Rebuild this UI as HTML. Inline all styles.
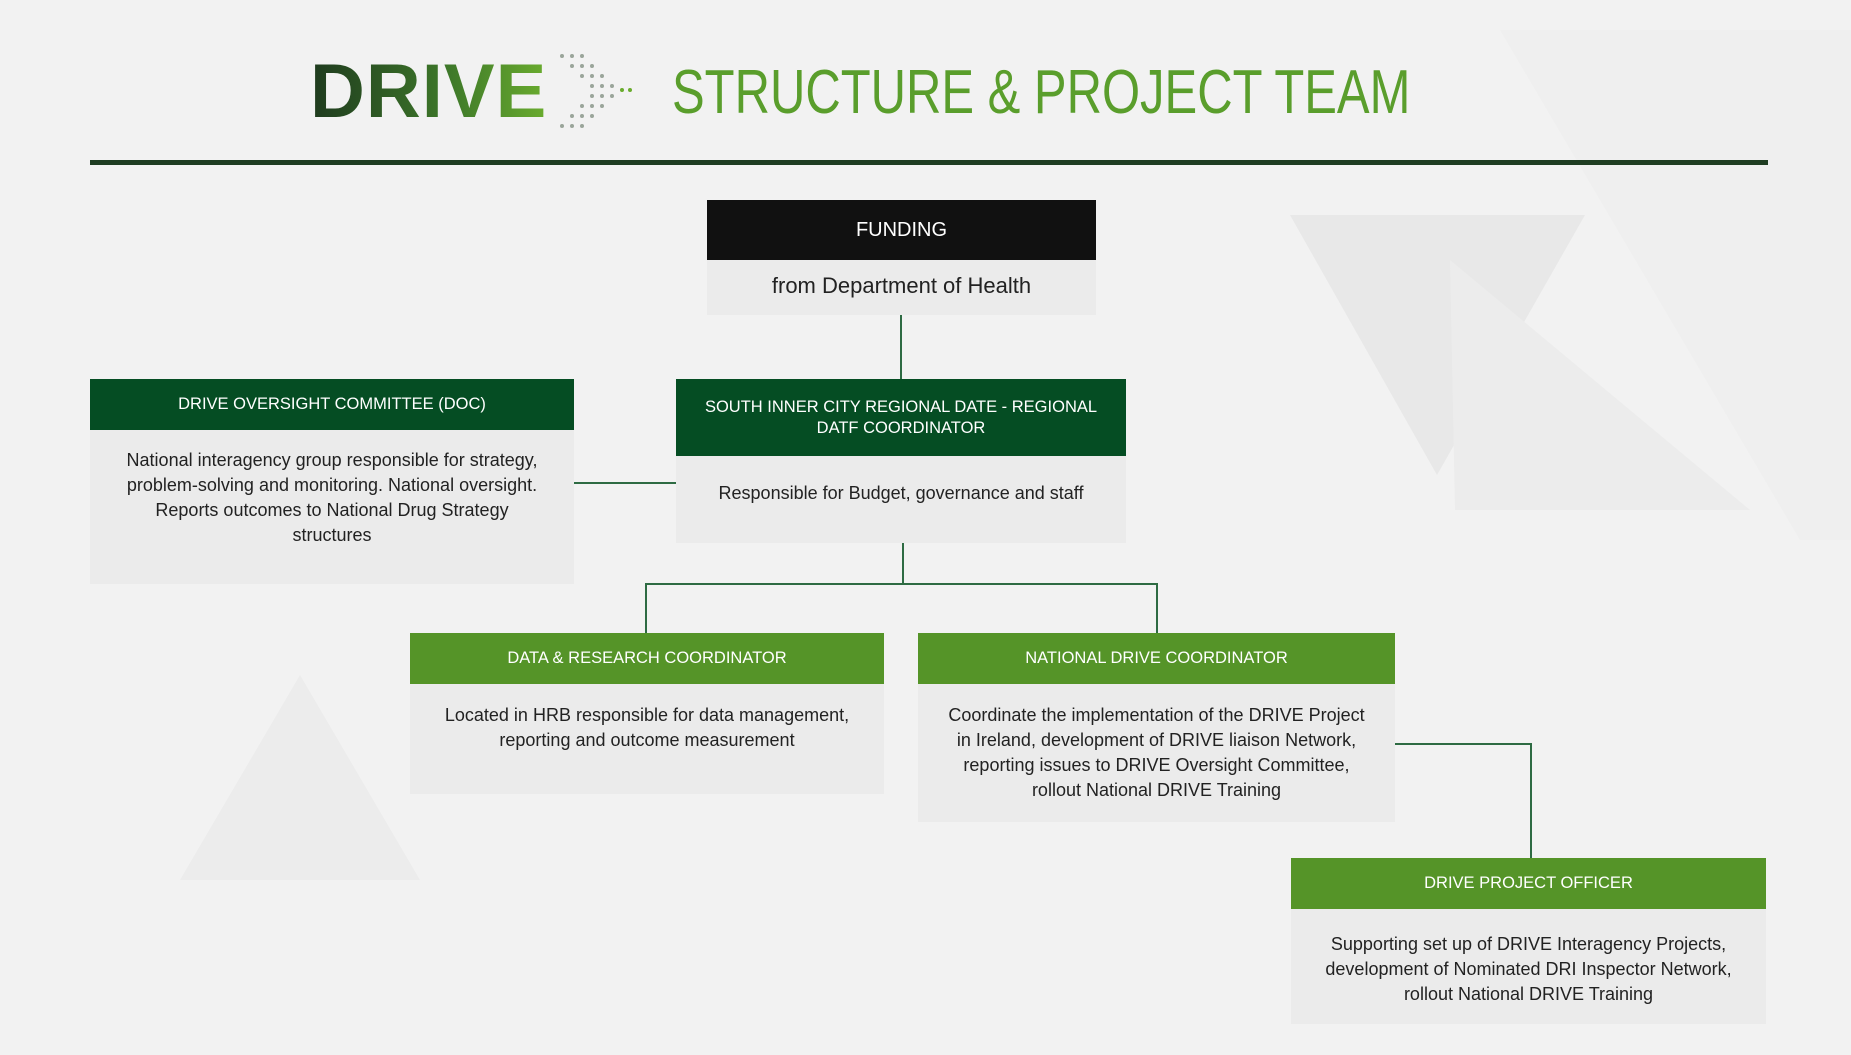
<!DOCTYPE html>
<html><head><meta charset="utf-8"><style>
*{margin:0;padding:0;box-sizing:border-box}
body{width:1851px;height:1055px;overflow:hidden;background:#f2f2f2;font-family:"Liberation Sans",sans-serif;position:relative}
.a{position:absolute}
.h{position:absolute;color:#fff;text-align:center;display:flex;align-items:center;justify-content:center;font-size:16.5px;line-height:21px}
.b{position:absolute;background:#ebebeb;color:#222;text-align:center;font-size:18px;line-height:25px;white-space:nowrap}
.dg{background:#054d23}
.lg{background:#559428}
.ln{position:absolute;background:#2e6b43}
</style></head><body>
<svg class="a" style="left:0;top:0" width="1851" height="1055">
<polygon points="1290,215 1585,215 1437,475" fill="#e8e8e8"/>
<polygon points="1450,260 1750,510 1455,510" fill="#ececec"/>
<polygon points="1500,30 1851,30 1851,540 1800,540" fill="#efefef"/>
<polygon points="300,675 420,880 180,880" fill="#ececec"/>
</svg>
<div class="a" style="left:310px;top:52px;font-size:76px;font-weight:bold;letter-spacing:1px;line-height:80px;background:linear-gradient(90deg,#1e3a1e,#3f7a2a 60%,#6aac2e);-webkit-background-clip:text;color:transparent">DRIVE</div>
<svg class="a" style="left:558px;top:52px" width="80" height="78">
<g fill="#9aa59a">
<circle cx="4" cy="4" r="2"/><circle cx="14" cy="4" r="2"/><circle cx="24" cy="4" r="2"/>
<circle cx="14" cy="14" r="2"/><circle cx="24" cy="14" r="2"/><circle cx="34" cy="14" r="2"/>
<circle cx="24" cy="24" r="2"/><circle cx="34" cy="24" r="2"/><circle cx="44" cy="24" r="2"/>
<circle cx="34" cy="34" r="2"/><circle cx="44" cy="34" r="2"/><circle cx="54" cy="34" r="2"/><circle cx="64" cy="38" r="2" fill="#6aac2e"/><circle cx="72" cy="38" r="2" fill="#6aac2e"/>
<circle cx="34" cy="44" r="2"/><circle cx="44" cy="44" r="2"/><circle cx="54" cy="44" r="2"/>
<circle cx="24" cy="54" r="2"/><circle cx="34" cy="54" r="2"/><circle cx="44" cy="54" r="2"/>
<circle cx="14" cy="64" r="2"/><circle cx="24" cy="64" r="2"/><circle cx="34" cy="64" r="2"/>
<circle cx="4" cy="74" r="2"/><circle cx="14" cy="74" r="2"/><circle cx="24" cy="74" r="2"/>
</g></svg>
<div class="a" style="left:672px;top:58px;font-size:62px;color:#5a9e2c;line-height:70px;white-space:nowrap;transform:scaleX(0.79);transform-origin:0 0">STRUCTURE &amp; PROJECT TEAM</div>
<div class="a" style="left:90px;top:160px;width:1678px;height:5px;background:#1f3d22"></div>

<div class="ln" style="left:900px;top:315px;width:2px;height:64px"></div>
<div class="ln" style="left:574px;top:482px;width:102px;height:2px"></div>
<div class="ln" style="left:902px;top:543px;width:2px;height:41px"></div>
<div class="ln" style="left:645px;top:583px;width:513px;height:2px"></div>
<div class="ln" style="left:645px;top:583px;width:2px;height:50px"></div>
<div class="ln" style="left:1156px;top:583px;width:2px;height:50px"></div>
<div class="ln" style="left:1395px;top:743px;width:137px;height:2px"></div>
<div class="ln" style="left:1530px;top:743px;width:2px;height:115px"></div>

<div class="h" style="left:707px;top:200px;width:389px;height:60px;background:#111;font-size:20px">FUNDING</div>
<div class="b" style="left:707px;top:260px;width:389px;height:55px;font-size:22px;line-height:52px">from Department of Health</div>

<div class="h dg" style="left:676px;top:379px;width:450px;height:77px">SOUTH INNER CITY REGIONAL DATE - REGIONAL<br>DATF COORDINATOR</div>
<div class="b" style="left:676px;top:456px;width:450px;height:87px;padding-top:25px">Responsible for Budget, governance and staff</div>

<div class="h dg" style="left:90px;top:379px;width:484px;height:51px">DRIVE OVERSIGHT COMMITTEE (DOC)</div>
<div class="b" style="left:90px;top:430px;width:484px;height:154px;padding-top:18px">National interagency group responsible for strategy,<br>problem-solving and monitoring. National oversight.<br>Reports outcomes to National Drug Strategy<br>structures</div>

<div class="h lg" style="left:410px;top:633px;width:474px;height:51px">DATA &amp; RESEARCH COORDINATOR</div>
<div class="b" style="left:410px;top:684px;width:474px;height:110px;padding-top:19px">Located in HRB responsible for data management,<br>reporting and outcome measurement</div>

<div class="h lg" style="left:918px;top:633px;width:477px;height:51px">NATIONAL DRIVE COORDINATOR</div>
<div class="b" style="left:918px;top:684px;width:477px;height:138px;padding-top:19px">Coordinate the implementation of the DRIVE Project<br>in Ireland, development of DRIVE liaison Network,<br>reporting issues to DRIVE Oversight Committee,<br>rollout National DRIVE Training</div>

<div class="h lg" style="left:1291px;top:858px;width:475px;height:51px">DRIVE PROJECT OFFICER</div>
<div class="b" style="left:1291px;top:909px;width:475px;height:115px;padding-top:23px">Supporting set up of DRIVE Interagency Projects,<br>development of Nominated DRI Inspector Network,<br>rollout National DRIVE Training</div>
</body></html>
